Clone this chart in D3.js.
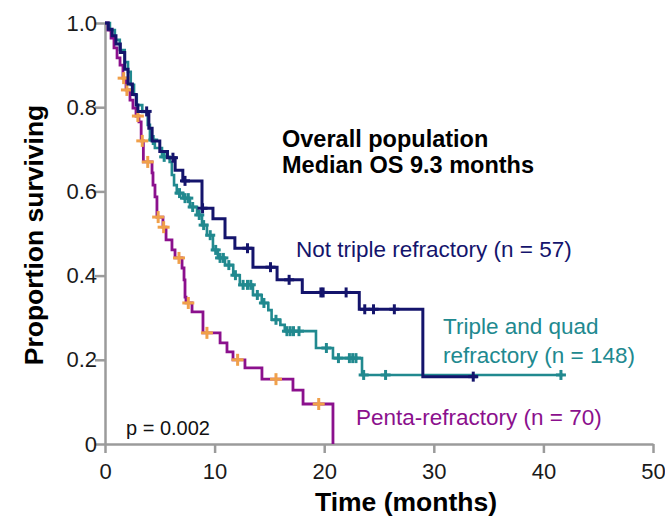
<!DOCTYPE html>
<html>
<head>
<meta charset="utf-8">
<script src="https://cdn.jsdelivr.net/npm/d3@7"></script>
<style>
  body { margin: 0; background: #fff; }
  svg { display: block; font-family: "Liberation Sans", Arial, sans-serif; }
</style>
</head>
<body>
<div id="chart"></div>
<script>
// KM kurver (tid i måneder, andel overlevende)
const navyTimes = [0.3, 0.65, 1.0, 1.4, 1.8, 2.1, 2.5, 2.85, 3.0, 4.0, 4.3, 5.0, 5.7, 6.4, 7.1, 8.85, 9.85, 10.95, 11.85, 13.5, 15.7, 18.0, 23.2, 29.0];
const navySurv  = [0.985, 0.97, 0.95, 0.93, 0.89, 0.855, 0.83, 0.805, 0.79, 0.75, 0.72, 0.695, 0.68, 0.65, 0.625, 0.56, 0.535, 0.49, 0.465, 0.42, 0.39, 0.36, 0.32, 0.16];
const navyEnd = 34.0;
const navyCensored = [3.8, 6.2, 7.3, 8.9, 13.0, 15.1, 16.8, 19.7, 19.9, 22.0, 23.7, 24.5, 26.4, 33.6];

const tealTimes = [0.45, 0.9, 1.35, 1.8, 2.1, 2.35, 2.65, 2.9, 3.4, 3.9, 4.1, 4.55, 5.2, 5.9, 6.1, 6.3, 6.55, 7.1, 7.75, 8.4, 8.85, 9.3, 9.85, 10.3, 10.95, 11.7, 12.3, 13.5, 14.3, 14.9, 15.2, 16.0, 16.4, 19.25, 20.8, 23.45];
const tealSurv  = [0.983, 0.96, 0.936, 0.907, 0.884, 0.853, 0.829, 0.805, 0.789, 0.758, 0.722, 0.703, 0.682, 0.67, 0.639, 0.615, 0.596, 0.584, 0.563, 0.544, 0.52, 0.496, 0.461, 0.442, 0.425, 0.401, 0.378, 0.354, 0.335, 0.318, 0.295, 0.283, 0.268, 0.228, 0.204, 0.164];
const tealEnd = 41.8;
const tealCensored = [4.4, 5.4, 6.8, 7.3, 7.6, 8.0, 8.6, 9.0, 9.6, 10.1, 10.5, 10.8, 11.3, 11.9, 12.6, 13.0, 13.3, 13.9, 14.5, 15.6, 16.6, 16.9, 17.2, 17.7, 20.2, 21.3, 22.3, 22.6, 22.9, 23.6, 25.6, 41.6];

const pentaTimes = [0.27, 0.55, 0.82, 1.1, 1.37, 1.64, 1.92, 2.28, 2.55, 2.83, 3.1, 3.3, 3.5, 4.29, 4.38, 4.56, 4.74, 5.29, 5.57, 6.11, 6.39, 7.03, 7.21, 7.3, 7.39, 7.94, 8.94, 10.5, 11.13, 11.68, 12.77, 14.32, 17.15, 18.07, 20.8];
const pentaSurv  = [0.983, 0.964, 0.941, 0.917, 0.9, 0.869, 0.841, 0.817, 0.798, 0.779, 0.765, 0.72, 0.67, 0.644, 0.615, 0.587, 0.539, 0.515, 0.485, 0.461, 0.442, 0.418, 0.39, 0.349, 0.335, 0.314, 0.264, 0.24, 0.219, 0.2, 0.181, 0.154, 0.128, 0.095, 0];
const pentaEnd = 20.8;
const pentaCensored = [1.7, 2.0, 3.0, 3.4, 3.9, 4.85, 5.35, 6.75, 7.6, 9.3, 12.1, 15.6, 19.5];

const xTicks = [0, 10, 20, 30, 40, 50];
const yTicks = [0, 0.2, 0.4, 0.6, 0.8, 1.0];

const navy = "#14146c", teal = "#21898f", purple = "#8b108d", orange = "#f0a04a", axisGrey = "#9b9b9b";

const width = 665, height = 520;
const svg = d3.select("#chart").append("svg")
    .attr("width", width)
    .attr("height", height);

const x = d3.scaleLinear().domain([0, 50]).range([105, 653]);
const y = d3.scaleLinear().domain([0, 1]).range([444, 23]);

// akser
const xAxis = svg.append("g")
    .attr("transform", "translate(0," + y(0) + ")")
    .call(d3.axisBottom(x).tickValues(xTicks).tickSize(9).tickPadding(10).tickSizeOuter(0));
const yAxis = svg.append("g")
    .attr("transform", "translate(" + x(0) + ",0)")
    .call(d3.axisLeft(y).tickValues(yTicks).tickSize(10).tickPadding(-2).tickSizeOuter(0)
        .tickFormat(d => d === 0 ? "0" : d.toFixed(1)));

[xAxis, yAxis].forEach(function(g) {
    g.selectAll(".domain").attr("stroke", axisGrey).attr("stroke-width", 2.5);
    g.selectAll(".tick line").attr("stroke", axisGrey).attr("stroke-width", 2.5);
    g.selectAll(".tick text").attr("fill", "#1a1a1a").style("font-size", "22px");
});

// step-linjer
function kmPoints(times, surv, end) {
    const pts = [[0, 1]];
    times.forEach((t, i) => pts.push([t, surv[i]]));
    pts.push([end, surv[surv.length - 1]]);
    return pts;
}
function survAt(times, surv, t) {
    let s = 1;
    for (let i = 0; i < times.length; i++) {
        if (times[i] <= t) s = surv[i];
    }
    return s;
}

const line = d3.line()
    .x(d => x(d[0]))
    .y(d => y(d[1]))
    .curve(d3.curveStepAfter);

const series = [
    {times: tealTimes, surv: tealSurv, end: tealEnd, cens: tealCensored, color: teal, mark: teal, arm: 5, w: 2.6},
    {times: pentaTimes, surv: pentaSurv, end: pentaEnd, cens: pentaCensored, color: purple, mark: orange, arm: 6, w: 2.8},
    {times: navyTimes, surv: navySurv, end: navyEnd, cens: navyCensored, color: navy, mark: navy, arm: 5, w: 3}
];

series.forEach(function(s) {
    svg.append("path")
        .datum(kmPoints(s.times, s.surv, s.end))
        .attr("fill", "none")
        .attr("stroke", s.color)
        .attr("stroke-width", s.w)
        .attr("d", line);

    const marks = svg.append("g").selectAll("g")
        .data(s.cens)
        .join("g")
        .attr("transform", d => "translate(" + x(d) + "," + y(survAt(s.times, s.surv, d)) + ")");
    marks.append("line")
        .attr("x1", -s.arm).attr("x2", s.arm).attr("y1", 0).attr("y2", 0)
        .attr("stroke", s.mark).attr("stroke-width", 3);
    marks.append("line")
        .attr("x1", 0).attr("x2", 0).attr("y1", -s.arm).attr("y2", s.arm)
        .attr("stroke", s.mark).attr("stroke-width", 3);
});

// tekster
svg.append("text")
    .attr("x", 282).attr("y", 147)
    .attr("font-weight", "bold").style("font-size", "23.5px")
    .text("Overall population");
svg.append("text")
    .attr("x", 282).attr("y", 173)
    .attr("font-weight", "bold").style("font-size", "23.5px")
    .text("Median OS 9.3 months");

svg.append("text")
    .attr("x", 296).attr("y", 257)
    .attr("fill", navy).style("font-size", "22.5px")
    .text("Not triple refractory (n = 57)");
svg.append("text")
    .attr("x", 443).attr("y", 334)
    .attr("fill", teal).style("font-size", "22.5px")
    .text("Triple and quad");
svg.append("text")
    .attr("x", 443).attr("y", 363)
    .attr("fill", teal).style("font-size", "22.5px")
    .text("refractory (n = 148)");
svg.append("text")
    .attr("x", 356).attr("y", 425)
    .attr("fill", purple).style("font-size", "22.5px")
    .text("Penta-refractory (n = 70)");
svg.append("text")
    .attr("x", 126).attr("y", 435)
    .attr("fill", "#111").style("font-size", "20px")
    .text("p = 0.002");

svg.append("text")
    .attr("x", 406).attr("y", 511)
    .attr("text-anchor", "middle")
    .attr("font-weight", "bold").style("font-size", "26.5px")
    .text("Time (months)");
svg.append("text")
    .attr("transform", "translate(43,235) rotate(-90)")
    .attr("text-anchor", "middle")
    .attr("font-weight", "bold").style("font-size", "26.5px")
    .text("Proportion surviving");
</script>
</body>
</html>
